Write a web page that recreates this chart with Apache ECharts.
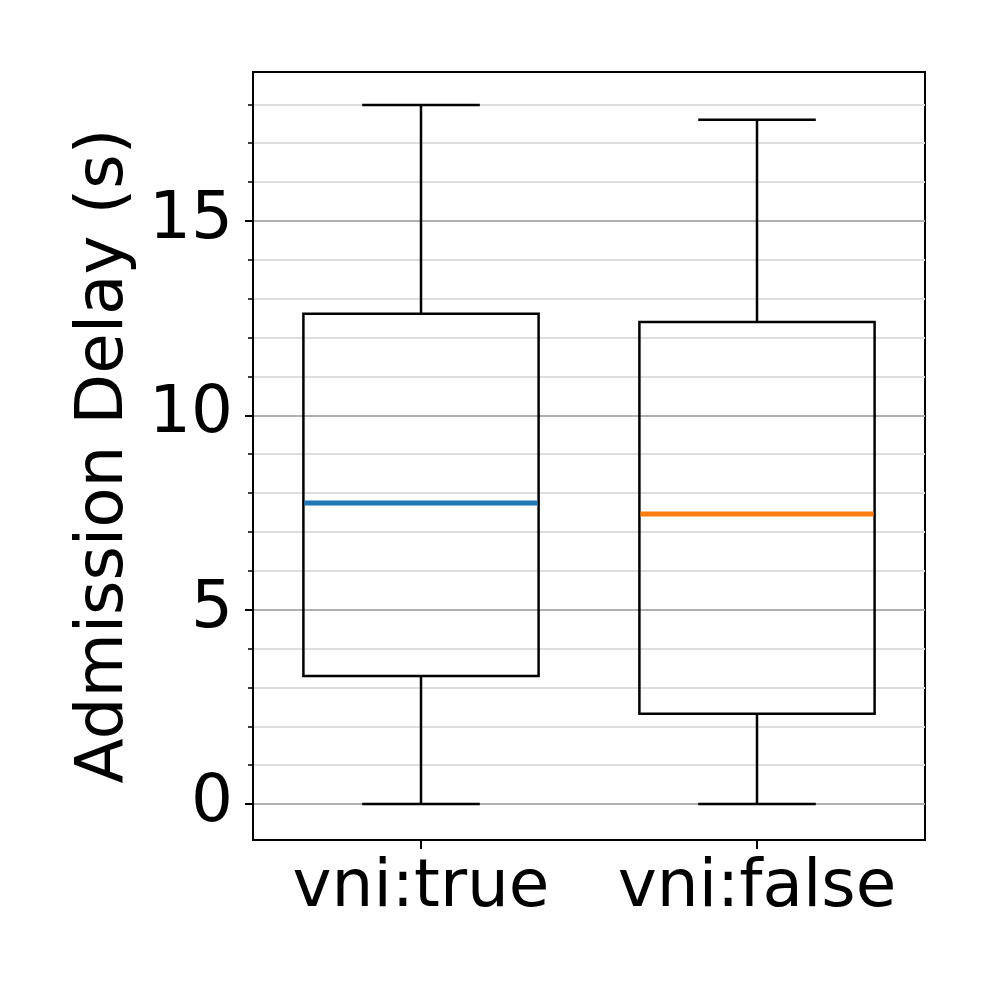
<!DOCTYPE html>
<html>
<head>
<meta charset="utf-8">
<script src="https://cdn.jsdelivr.net/npm/echarts@6/dist/echarts.min.js"></script>
<style>
  html, body { margin: 0; padding: 0; background: #fff; }
  #chart { width: 997px; height: 997px; }
</style>
</head>
<body>
<div id="chart"></div>
<script>
// categories and box statistics
const categories = ["vni:true", "vni:false"];
const whiskerLow = [0, 0];
const q1 = [3.29, 2.32];
const median = [7.74, 7.46];
const q3 = [12.61, 12.4];
const whiskerHigh = [17.98, 17.6];
const medianColors = ["#1f77b4", "#ff7f0e"];

// y axis ticks
const majorTicks = [0, 5, 10, 15];
const minorTicks = [0, 1, 2, 3, 4, 5, 6, 7, 8, 9, 10, 11, 12, 13, 14, 15, 16, 17, 18];
const yMin = -0.926;
const yMax = 18.83;

const font = "DejaVu Sans";

const chart = echarts.init(document.getElementById("chart"));

const boxData = categories.map((c, i) => [i, whiskerLow[i], q1[i], median[i], q3[i], whiskerHigh[i]]);

function renderBox(params, api) {
  const idx = api.value(0);
  const band = api.size([1, 0])[0];
  const boxW = band * 0.7;
  const capW = boxW / 2;
  const pLow = api.coord([idx, api.value(1)]);
  const pQ1 = api.coord([idx, api.value(2)]);
  const pMed = api.coord([idx, api.value(3)]);
  const pQ3 = api.coord([idx, api.value(4)]);
  const pHigh = api.coord([idx, api.value(5)]);
  const cx = pQ1[0];
  const black = { stroke: "#000", lineWidth: 2.5 };
  return {
    type: "group",
    children: [
      { type: "line", shape: { x1: cx, y1: pQ1[1], x2: cx, y2: pLow[1] }, style: black },
      { type: "line", shape: { x1: cx, y1: pQ3[1], x2: cx, y2: pHigh[1] }, style: black },
      { type: "line", shape: { x1: cx - capW / 2, y1: pLow[1], x2: cx + capW / 2, y2: pLow[1] }, style: black },
      { type: "line", shape: { x1: cx - capW / 2, y1: pHigh[1], x2: cx + capW / 2, y2: pHigh[1] }, style: black },
      {
        type: "rect",
        shape: { x: cx - boxW / 2, y: pQ3[1], width: boxW, height: pQ1[1] - pQ3[1] },
        style: { fill: "rgba(255,255,255,0)", stroke: "#000", lineWidth: 2.5 }
      },
      {
        type: "line",
        shape: { x1: cx - boxW / 2 + 1, y1: pMed[1], x2: cx + boxW / 2 - 1, y2: pMed[1] },
        style: { stroke: medianColors[idx], lineWidth: 5 }
      }
    ]
  };
}

const option = {
  backgroundColor: "#fff",
  animation: false,
  grid: {
    left: 253,
    right: 72,
    top: 72,
    bottom: 157,
    show: true,
    borderColor: "#000",
    borderWidth: 2,
    backgroundColor: "transparent"
  },
  xAxis: {
    type: "category",
    data: categories,
    boundaryGap: true,
    axisLine: { onZero: false, lineStyle: { color: "#000", width: 2 } },
    axisTick: { show: true, alignWithLabel: true, length: 9, lineStyle: { color: "#000", width: 2 } },
    axisLabel: { color: "#000", fontSize: 66, fontFamily: font, margin: 16, interval: 0 },
    splitLine: { show: false }
  },
  yAxis: [
    {
      // minor ticks and light grid
      type: "value",
      position: "left",
      min: yMin,
      max: yMax,
      axisLine: { show: true, lineStyle: { color: "#000", width: 2 } },
      axisTick: { show: true, length: 5, customValues: minorTicks, lineStyle: { color: "#000", width: 1.5 } },
      axisLabel: { show: false },
      splitLine: { show: true, lineStyle: { color: "#dddddd", width: 2 } }
    },
    {
      // major ticks, labels and darker grid
      type: "value",
      position: "left",
      offset: 0,
      min: yMin,
      max: yMax,
      name: "Admission Delay (s)",
      nameLocation: "middle",
      nameGap: 112,
      nameTextStyle: { color: "#000", fontSize: 66, fontFamily: font },
      axisLine: { show: true, lineStyle: { color: "#000", width: 2 } },
      axisTick: { show: true, length: 8, customValues: majorTicks, lineStyle: { color: "#000", width: 2 } },
      axisLabel: { color: "#000", fontSize: 66, fontFamily: font, margin: 20, customValues: majorTicks },
      splitLine: { show: true, lineStyle: { color: "#b0b0b0", width: 2 } }
    }
  ],
  series: [
    {
      type: "custom",
      yAxisIndex: 1,
      renderItem: renderBox,
      encode: { x: 0, y: [1, 2, 3, 4, 5] },
      data: boxData,
      z: 10
    }
  ]
};

chart.setOption(option);
</script>
</body>
</html>
